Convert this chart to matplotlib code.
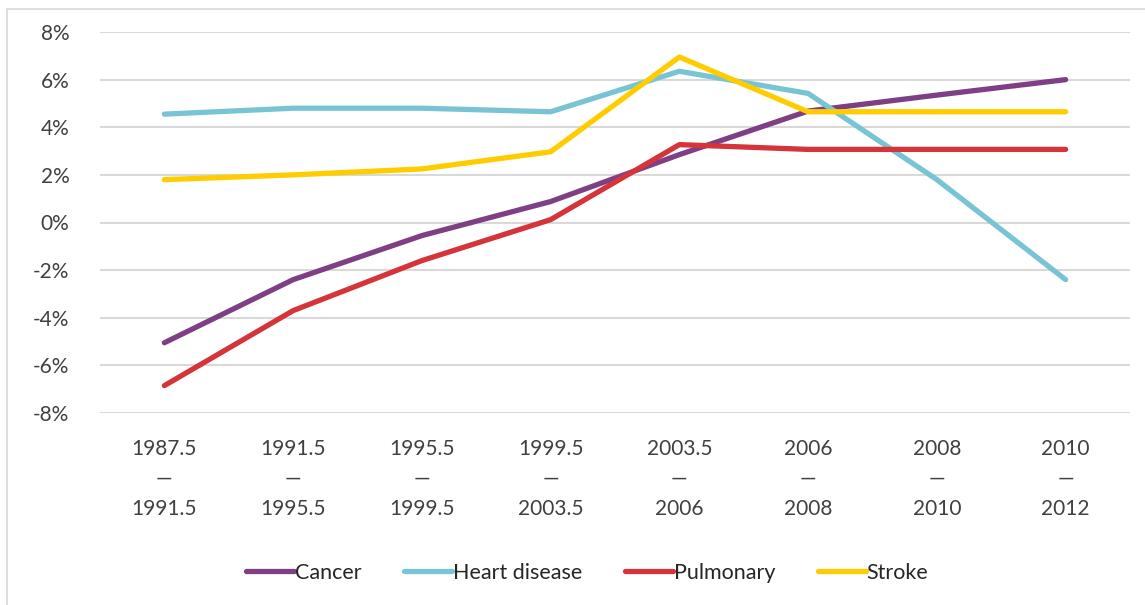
import matplotlib.pyplot as plt
from matplotlib.patches import Rectangle

periods = ["1987.5\n—\n1991.5", "1991.5\n—\n1995.5", "1995.5\n—\n1999.5", "1999.5\n—\n2003.5",
           "2003.5\n—\n2006", "2006\n—\n2008", "2008\n—\n2010", "2010\n—\n2012"]
cancer = [-5.05, -2.4, -0.55, 0.88, 2.85, 4.68, 5.35, 6.0]
heart = [4.55, 4.8, 4.8, 4.65, 6.35, 5.42, 1.8, -2.4]
pulmonary = [-6.85, -3.7, -1.6, 0.12, 3.27, 3.07, 3.07, 3.07]
stroke = [1.8, 2.0, 2.25, 2.97, 6.95, 4.65, 4.65, 4.65]

series = [("Cancer", cancer, "#7F3F85"),
          ("Heart disease", heart, "#78C4D4"),
          ("Pulmonary", pulmonary, "#D4343A"),
          ("Stroke", stroke, "#FFCC00")]

plt.rcParams['font.family'] = ['Lato', 'DejaVu Sans']

fig = plt.figure(figsize=(11.45, 6.05), dpi=100)
ax = fig.add_axes([100 / 1145, 1 - 413 / 605, 1030 / 1145, 381 / 605])

x = range(len(periods))
for name, vals, col in series:
    ax.plot(x, vals, color=col, linewidth=3.8, solid_capstyle='round', label=name)

ax.set_xlim(-0.5, len(periods) - 0.5)
ax.set_ylim(-8, 8)
ax.set_yticks(range(-8, 9, 2))
ax.set_yticklabels([f"{v}%" for v in range(-8, 9, 2)])
ax.set_xticks(list(x))
ax.set_xticklabels(periods, linespacing=1.6)
ax.grid(axis='y', color='#D9D9D9', linewidth=1.5)
ax.set_axisbelow(True)
for s in ax.spines.values():
    s.set_visible(False)
ax.tick_params(axis='both', length=0, labelsize=15, colors='#404040')
ax.tick_params(axis='y', pad=22)
ax.tick_params(axis='x', pad=19)

leg = fig.legend(loc='center', bbox_to_anchor=(0.513, 1 - 573 / 605), ncol=4, frameon=False,
                 fontsize=15.5, handlelength=2.2, handletextpad=0.05, columnspacing=2.0)
for t in leg.get_texts():
    t.set_color('#262626')

fig.patches.append(Rectangle((7 / 1145, -0.01), 1.02, 1 - 9 / 605 + 0.01, transform=fig.transFigure,
                             fill=False, edgecolor='#D9D9D9', linewidth=1.2))

fig.savefig("out.png", dpi=100)
